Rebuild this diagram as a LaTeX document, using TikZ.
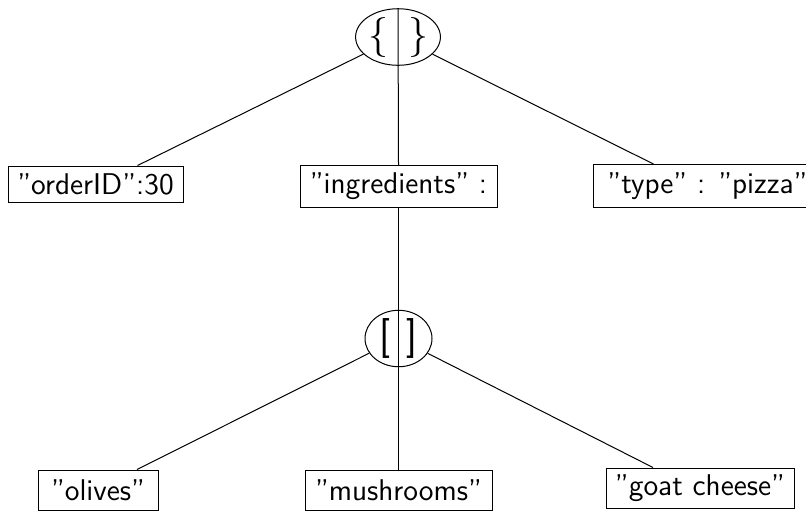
\documentclass[tikz,border=0pt]{standalone}
\usetikzlibrary{shapes.geometric}
\begin{document}
\begin{tikzpicture}[x=0.5pt,y=-0.5pt,
  conn/.style={line width=0.5pt},
  leaf/.style={draw,line width=0.5pt,inner sep=0pt,font=\fontsize{15}{18}\selectfont\sffamily},
  obj/.style={draw,ellipse,line width=0.5pt,inner sep=0pt,font=\fontsize{20}{24}\selectfont}]
\useasboundingbox (0,0) rectangle (806,511);
\node[obj,minimum width=42pt,minimum height=27pt] (root) at (398,37) {\{\hspace{10pt}\}};
\node[leaf,minimum width=87.5pt,minimum height=18pt] (order) at (95.5,184) {''orderID'':30};
\node[leaf,minimum width=98.5pt,minimum height=21pt] (ingr) at (398.5,186.5) {''ingredients'' :};
\node[leaf,minimum width=110pt,minimum height=21.5pt,anchor=west] (type) at (593,186) {\hspace{4pt}''type'' : ''pizza''\hfill};
\node[obj,minimum width=33.5pt,minimum height=26.5pt,font=\fontsize{20}{24}\selectfont\sffamily] (arr) at (398.5,338.5) {[\hspace{8pt}]};
\node[leaf,minimum width=60pt,minimum height=20pt] (olives) at (98,490) {''olives''};
\node[leaf,minimum width=93.5pt,minimum height=20pt] (mush) at (398.5,490) {''mushrooms''};
\node[leaf,minimum width=94pt,minimum height=20pt] (goat) at (700,488) {''goat cheese''};
\coordinate (top) at (398,8);
\draw[conn] (top) -- (ingr.north);
\draw[conn] (root) -- ([xshift=21pt]order.north);
\draw[conn] (root) -- ([xshift=-25pt]type.north);
\draw[conn] (ingr.south) -- (mush.north);
\draw[conn] (arr) -- ([xshift=19.5pt]olives.north);
\draw[conn] (arr) -- ([xshift=-23.5pt]goat.north);
\end{tikzpicture}
\end{document}
